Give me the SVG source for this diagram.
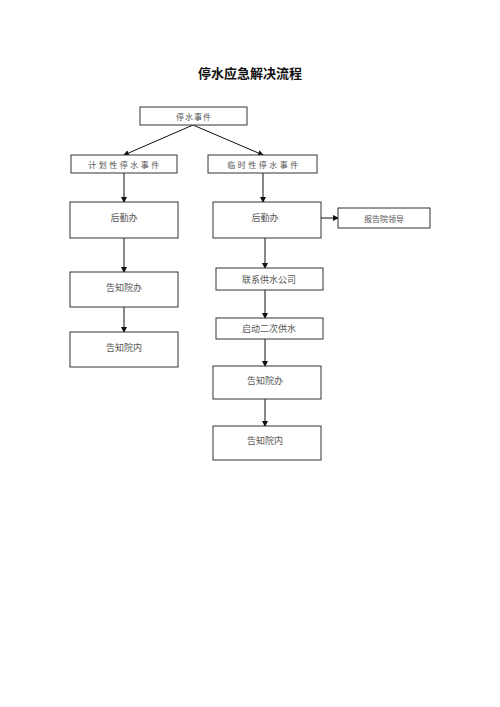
<svg xmlns="http://www.w3.org/2000/svg" width="500" height="707" viewBox="0 0 500 707">
<defs>
<marker id="ah" markerWidth="6" markerHeight="6" refX="5" refY="3" orient="auto" markerUnits="userSpaceOnUse">
<path d="M0,0 L6,3 L0,6 Z" fill="#111"/>
</marker>
<style>
.box{fill:#fff;stroke:#333;stroke-width:1}
.t{font-family:"Liberation Serif","Noto Sans CJK SC",serif;font-size:9px;fill:#555;text-anchor:middle}
.s{font-size:8px}
.w{letter-spacing:2.5px}
.c{stroke:#111;stroke-width:1;fill:none;marker-end:url(#ah)}
.title{font-family:"Liberation Serif","Noto Sans CJK SC",serif;font-size:13px;font-weight:bold;fill:#111;text-anchor:middle}
</style>
</defs>
<rect width="500" height="707" fill="#fff"/>
<text class="title" x="250" y="78">停水应急解决流程</text>
<g id="connectors">
<line class="c" x1="193" y1="125" x2="124" y2="155"/>
<line class="c" x1="193" y1="125" x2="263" y2="155"/>
<line class="c" x1="124" y1="173" x2="124" y2="202"/>
<line class="c" x1="263" y1="173" x2="263" y2="202"/>
<line class="c" x1="124" y1="238" x2="124" y2="272"/>
<line class="c" x1="124" y1="307" x2="124" y2="332"/>
<line class="c" x1="321" y1="218" x2="338" y2="218"/>
<line class="c" x1="265" y1="238" x2="265" y2="268"/>
<line class="c" x1="265" y1="290" x2="265" y2="318"/>
<line class="c" x1="265" y1="339" x2="265" y2="366"/>
<line class="c" x1="265" y1="399" x2="265" y2="426"/>
</g>
<g id="n-top"><rect class="box" x="140" y="107" width="107" height="18"/><text class="t s" x="194" y="120" style="letter-spacing:1px">停水事件</text></g>
<g id="n-plan"><rect class="box" x="71" y="155" width="106" height="18"/><text class="t s w" x="125" y="168">计划性停水事件</text></g>
<g id="n-temp"><rect class="box" x="208" y="155" width="109" height="18"/><text class="t s w" x="264" y="168">临时性停水事件</text></g>
<g id="n-l1"><rect class="box" x="70" y="202" width="108" height="36"/><text class="t" x="124" y="221">后勤办</text></g>
<g id="n-l2"><rect class="box" x="70" y="272" width="108" height="35"/><text class="t" x="124" y="291">告知院办</text></g>
<g id="n-l3"><rect class="box" x="70" y="332" width="108" height="35"/><text class="t" x="124" y="351">告知院内</text></g>
<g id="n-r1"><rect class="box" x="213" y="202" width="108" height="36"/><text class="t" x="265" y="221">后勤办</text></g>
<g id="n-report"><rect class="box" x="338" y="208" width="92" height="20"/><text class="t s" x="384" y="222">报告院领导</text></g>
<g id="n-r2"><rect class="box" x="216" y="268" width="107" height="22"/><text class="t" x="269" y="283">联系供水公司</text></g>
<g id="n-r3"><rect class="box" x="216" y="318" width="107" height="21"/><text class="t" x="269" y="332">启动二次供水</text></g>
<g id="n-r4"><rect class="box" x="213" y="366" width="108" height="33"/><text class="t" x="265" y="384">告知院办</text></g>
<g id="n-r5"><rect class="box" x="213" y="426" width="108" height="34"/><text class="t" x="265" y="444">告知院内</text></g>
</svg>
